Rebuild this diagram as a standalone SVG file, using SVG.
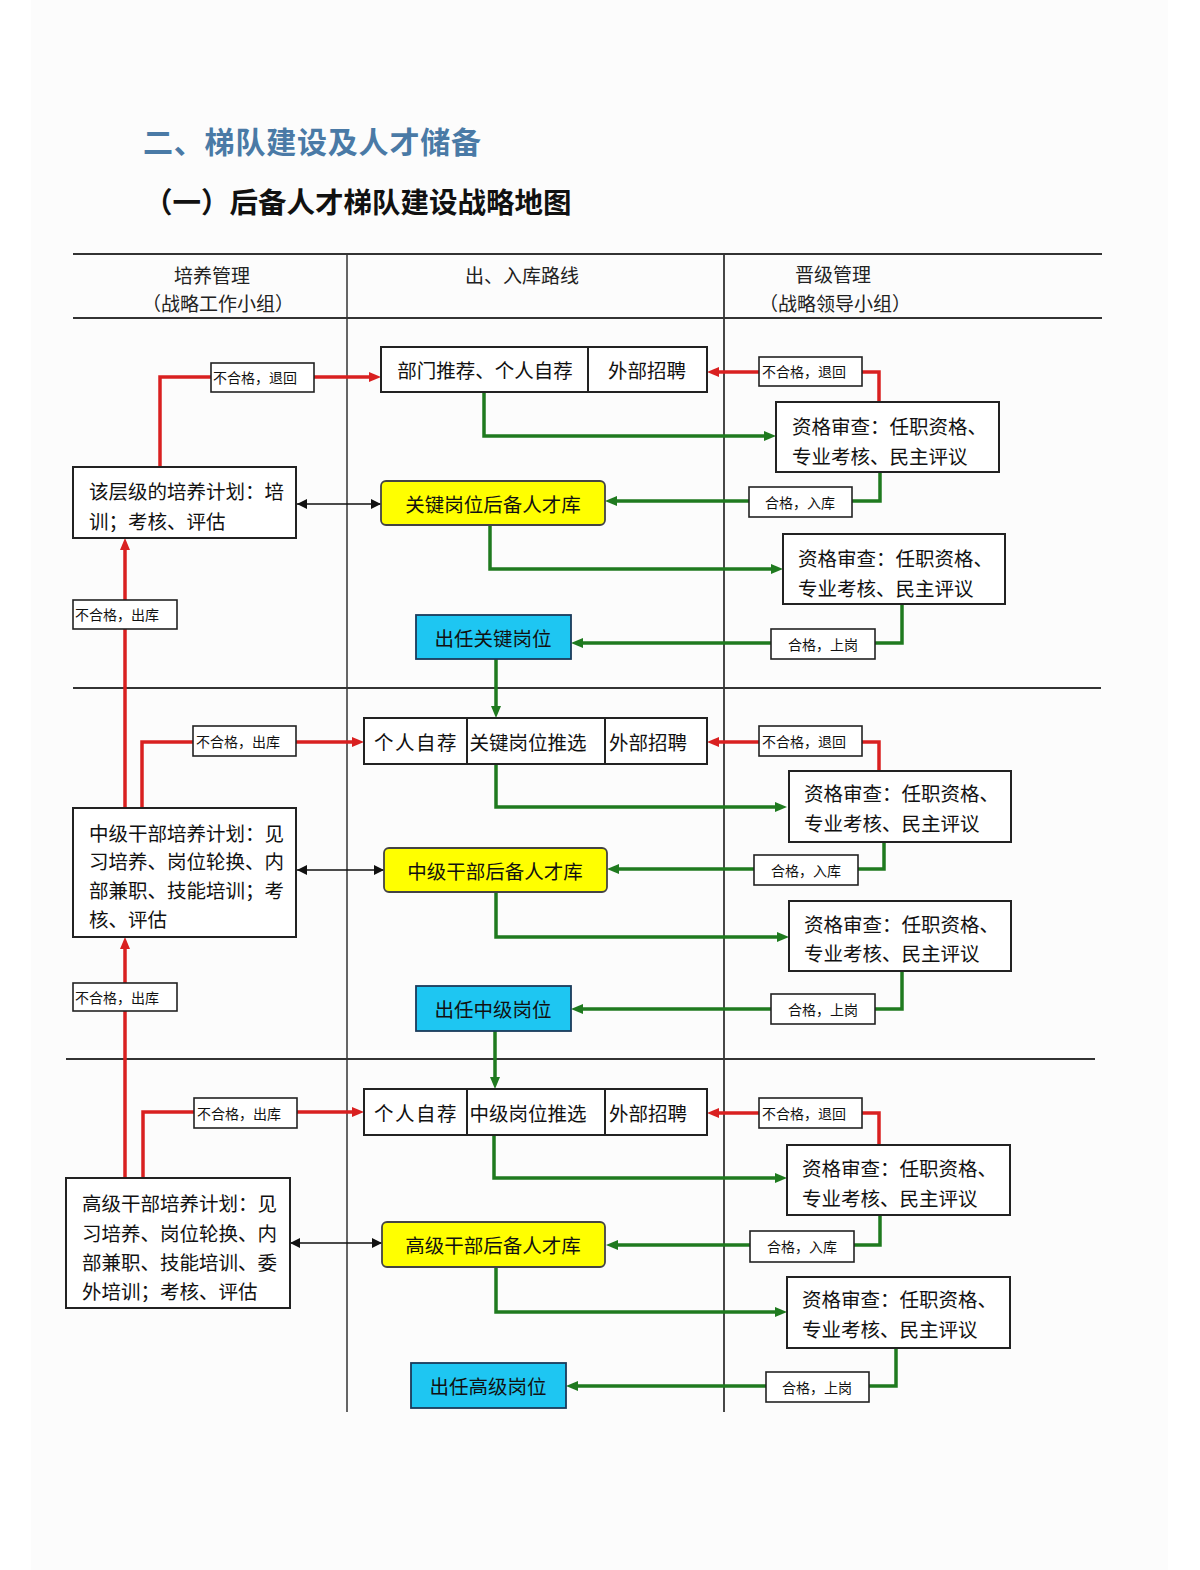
<svg xmlns="http://www.w3.org/2000/svg" width="1200" height="1570" viewBox="0 0 1200 1570">
<defs>
<style>
.box{fill:#fff;stroke:#222;stroke-width:2}
.yel{fill:#ffff00;stroke:#444;stroke-width:1.8}
.cyan{fill:#1ec6f2;stroke:#1a3a5a;stroke-width:1.8}
.lbl{fill:#fff;stroke:#222;stroke-width:1.6}
.t{font-family:"Noto Sans CJK SC","Noto Sans",sans-serif;font-size:19.5px;fill:#111;dominant-baseline:central}
.tc{text-anchor:middle}
.ts{font-size:14px}
.hd{font-size:19px;fill:#222}
.g{fill:none;stroke:#1f7a1f;stroke-width:3.5}
.r{fill:none;stroke:#d92020;stroke-width:3.5}
.k{fill:none;stroke:#111;stroke-width:1.5}
.grid{stroke:#333;stroke-width:1.8;fill:none}
</style>
<marker id="ag" viewBox="0 0 12 10" refX="4" refY="5" markerWidth="12" markerHeight="10" markerUnits="userSpaceOnUse" orient="auto"><path d="M0,0 L12,5 L0,10 z" fill="#1f7a1f"/></marker>
<marker id="ar" viewBox="0 0 12 10" refX="4" refY="5" markerWidth="12" markerHeight="10" markerUnits="userSpaceOnUse" orient="auto"><path d="M0,0 L12,5 L0,10 z" fill="#d92020"/></marker>
<marker id="ak" viewBox="0 0 10 10" refX="10" refY="5" markerWidth="10" markerHeight="10" markerUnits="userSpaceOnUse" orient="auto-start-reverse"><path d="M0,0 L10,5 L0,10 z" fill="#111"/></marker>
</defs>
<rect x="0" y="0" width="1200" height="1570" fill="#ffffff"/>
<rect x="31" y="0" width="1137" height="1570" fill="#fcfcfc"/>

<g id="titles">
<text class="t" x="143" y="140" style="font-size:30px;font-weight:bold;fill:#4a7aa6;letter-spacing:0.8px">二、梯队建设及人才储备</text>
<text class="t" x="144" y="200" style="font-size:28.5px;font-weight:bold;fill:#111">（一）后备人才梯队建设战略地图</text>
</g>

<g id="table">
<line class="grid" x1="73" y1="254" x2="1102" y2="254"/>
<line class="grid" x1="73" y1="318" x2="1102" y2="318"/>
<line class="grid" x1="73" y1="688" x2="1101" y2="688"/>
<line class="grid" x1="66" y1="1059" x2="1095" y2="1059"/>
<line class="grid" x1="347" y1="254" x2="347" y2="1412" style="stroke-width:1.5"/>
<line class="grid" x1="724" y1="254" x2="724" y2="1412"/>
<text class="t tc hd" x="212" y="274">培养管理</text>
<text class="t tc hd" x="218" y="302">（战略工作小组）</text>
<text class="t tc hd" x="522" y="274">出、入库路线</text>
<text class="t tc hd" x="833" y="273">晋级管理</text>
<text class="t tc hd" x="835" y="302">（战略领导小组）</text>
</g>

<g id="connectors">
<!-- section 1 -->
<path class="r" d="M160,467 V377 H373" marker-end="url(#ar)"/>
<path class="r" d="M879,402 V372 H715" marker-end="url(#ar)"/>
<path class="g" d="M484,392 V436 H768" marker-end="url(#ag)"/>
<path class="g" d="M880,472 V501 H613" marker-end="url(#ag)"/>
<path class="k" d="M297,504 H381" marker-start="url(#ak)" marker-end="url(#ak)"/>
<path class="g" d="M490,525 V569 H775" marker-end="url(#ag)"/>
<path class="g" d="M902,604 V643 H579" marker-end="url(#ag)"/>
<path class="g" d="M496,659 V710" marker-end="url(#ag)"/>
<path class="r" d="M125,808 V546" marker-end="url(#ar)"/>
<!-- section 2 -->
<path class="r" d="M142,808 V742 H356" marker-end="url(#ar)"/>
<path class="r" d="M879,771 V742 H715" marker-end="url(#ar)"/>
<path class="g" d="M496,764 V807 H779" marker-end="url(#ag)"/>
<path class="g" d="M884,842 V869 H615" marker-end="url(#ag)"/>
<path class="k" d="M297,870 H384" marker-start="url(#ak)" marker-end="url(#ak)"/>
<path class="g" d="M496,892 V937 H781" marker-end="url(#ag)"/>
<path class="g" d="M902,971 V1009 H579" marker-end="url(#ag)"/>
<path class="g" d="M495,1031 V1081" marker-end="url(#ag)"/>
<path class="r" d="M125,1178 V945" marker-end="url(#ar)"/>
<!-- section 3 -->
<path class="r" d="M143,1178 V1112 H356" marker-end="url(#ar)"/>
<path class="r" d="M879,1145 V1113 H715" marker-end="url(#ar)"/>
<path class="g" d="M494,1135 V1178 H779" marker-end="url(#ag)"/>
<path class="g" d="M880,1215 V1245 H614" marker-end="url(#ag)"/>
<path class="k" d="M290,1243 H382" marker-start="url(#ak)" marker-end="url(#ak)"/>
<path class="g" d="M496,1267 V1312 H779" marker-end="url(#ag)"/>
<path class="g" d="M896,1348 V1386 H574" marker-end="url(#ag)"/>
</g>

<g id="edge-labels">
<g id="lbl-s1-return-left"><rect class="lbl" x="211" y="363" width="103" height="29"/><text class="t ts" x="213" y="377">不合格，退回</text></g>
<g id="lbl-s1-return-right"><rect class="lbl" x="759" y="357" width="103" height="29"/><text class="t ts" x="762" y="371">不合格，退回</text></g>
<g id="lbl-s1-in"><rect class="lbl" x="749" y="487" width="103" height="30"/><text class="t tc ts" x="800" y="502">合格，入库</text></g>
<g id="lbl-s1-up"><rect class="lbl" x="771" y="629" width="104" height="30"/><text class="t tc ts" x="823" y="644">合格，上岗</text></g>
<g id="lbl-s1-out"><rect class="lbl" x="73" y="600" width="104" height="29"/><text class="t ts" x="75" y="614">不合格，出库</text></g>
<g id="lbl-s2-out-left"><rect class="lbl" x="193" y="726" width="103" height="30"/><text class="t ts" x="196" y="741">不合格，出库</text></g>
<g id="lbl-s2-return-right"><rect class="lbl" x="759" y="726" width="103" height="30"/><text class="t ts" x="762" y="741">不合格，退回</text></g>
<g id="lbl-s2-in"><rect class="lbl" x="754" y="855" width="104" height="30"/><text class="t tc ts" x="806" y="870">合格，入库</text></g>
<g id="lbl-s2-up"><rect class="lbl" x="771" y="994" width="104" height="30"/><text class="t tc ts" x="823" y="1009">合格，上岗</text></g>
<g id="lbl-s2-out"><rect class="lbl" x="73" y="983" width="104" height="28"/><text class="t ts" x="75" y="997">不合格，出库</text></g>
<g id="lbl-s3-out-left"><rect class="lbl" x="194" y="1098" width="103" height="30"/><text class="t ts" x="197" y="1113">不合格，出库</text></g>
<g id="lbl-s3-return-right"><rect class="lbl" x="759" y="1098" width="103" height="30"/><text class="t ts" x="762" y="1113">不合格，退回</text></g>
<g id="lbl-s3-in"><rect class="lbl" x="750" y="1231" width="104" height="31"/><text class="t tc ts" x="802" y="1246">合格，入库</text></g>
<g id="lbl-s3-up"><rect class="lbl" x="766" y="1372" width="103" height="30"/><text class="t tc ts" x="817" y="1387">合格，上岗</text></g>
</g>

<!-- Section 1 nodes -->
<g id="n-s1-source">
<rect class="box" x="381" y="347" width="326" height="45"/>
<line x1="588" y1="347" x2="588" y2="392" stroke="#222" stroke-width="2"/>
<text class="t tc" x="485" y="369">部门推荐、个人自荐</text>
<text class="t tc" x="647" y="369">外部招聘</text>
</g>
<g id="n-s1-plan">
<rect class="box" x="73" y="467" width="223" height="71"/>
<text class="t" x="89" y="490">该层级的培养计划：培</text>
<text class="t" x="89" y="520">训；考核、评估</text>
</g>
<g id="n-s1-pool">
<rect class="yel" x="381" y="481" width="224" height="44" rx="5"/>
<text class="t tc" x="493" y="503">关键岗位后备人才库</text>
</g>
<g id="n-s1-review1">
<rect class="box" x="776" y="402" width="223" height="70"/>
<text class="t" x="792" y="425">资格审查：任职资格、</text>
<text class="t" x="792" y="455">专业考核、民主评议</text>
</g>
<g id="n-s1-review2">
<rect class="box" x="783" y="534" width="222" height="70"/>
<text class="t" x="798" y="557">资格审查：任职资格、</text>
<text class="t" x="798" y="587">专业考核、民主评议</text>
</g>
<g id="n-s1-post">
<rect class="cyan" x="416" y="615" width="155" height="44"/>
<text class="t tc" x="493" y="637">出任关键岗位</text>
</g>

<!-- Section 2 nodes -->
<g id="n-s2-source">
<rect class="box" x="364" y="718" width="343" height="46"/>
<line x1="467" y1="718" x2="467" y2="764" stroke="#222" stroke-width="2"/>
<line x1="605" y1="718" x2="605" y2="764" stroke="#222" stroke-width="2"/>
<text class="t tc" x="416" y="741" style="letter-spacing:1.5px">个人自荐</text>
<text class="t tc" x="528" y="741">关键岗位推选</text>
<text class="t tc" x="648" y="741">外部招聘</text>
</g>
<g id="n-s2-plan">
<rect class="box" x="73" y="808" width="223" height="129"/>
<text class="t" x="89" y="832">中级干部培养计划：见</text>
<text class="t" x="89" y="860">习培养、岗位轮换、内</text>
<text class="t" x="89" y="889">部兼职、技能培训；考</text>
<text class="t" x="89" y="918">核、评估</text>
</g>
<g id="n-s2-pool">
<rect class="yel" x="384" y="848" width="223" height="44" rx="5"/>
<text class="t tc" x="495" y="870">中级干部后备人才库</text>
</g>
<g id="n-s2-review1">
<rect class="box" x="789" y="771" width="222" height="71"/>
<text class="t" x="804" y="792">资格审查：任职资格、</text>
<text class="t" x="804" y="822">专业考核、民主评议</text>
</g>
<g id="n-s2-review2">
<rect class="box" x="789" y="901" width="222" height="70"/>
<text class="t" x="804" y="923">资格审查：任职资格、</text>
<text class="t" x="804" y="952">专业考核、民主评议</text>
</g>
<g id="n-s2-post">
<rect class="cyan" x="416" y="986" width="155" height="45"/>
<text class="t tc" x="493" y="1008">出任中级岗位</text>
</g>

<!-- Section 3 nodes -->
<g id="n-s3-source">
<rect class="box" x="364" y="1089" width="343" height="46"/>
<line x1="467" y1="1089" x2="467" y2="1135" stroke="#222" stroke-width="2"/>
<line x1="605" y1="1089" x2="605" y2="1135" stroke="#222" stroke-width="2"/>
<text class="t tc" x="416" y="1112" style="letter-spacing:1.5px">个人自荐</text>
<text class="t tc" x="528" y="1112">中级岗位推选</text>
<text class="t tc" x="648" y="1112">外部招聘</text>
</g>
<g id="n-s3-plan">
<rect class="box" x="66" y="1178" width="224" height="130"/>
<text class="t" x="82" y="1202">高级干部培养计划：见</text>
<text class="t" x="82" y="1232">习培养、岗位轮换、内</text>
<text class="t" x="82" y="1261">部兼职、技能培训、委</text>
<text class="t" x="82" y="1290">外培训；考核、评估</text>
</g>
<g id="n-s3-pool">
<rect class="yel" x="382" y="1222" width="223" height="45" rx="5"/>
<text class="t tc" x="493" y="1244">高级干部后备人才库</text>
</g>
<g id="n-s3-review1">
<rect class="box" x="787" y="1145" width="223" height="70"/>
<text class="t" x="802" y="1167">资格审查：任职资格、</text>
<text class="t" x="802" y="1197">专业考核、民主评议</text>
</g>
<g id="n-s3-review2">
<rect class="box" x="787" y="1277" width="223" height="71"/>
<text class="t" x="802" y="1298">资格审查：任职资格、</text>
<text class="t" x="802" y="1328">专业考核、民主评议</text>
</g>
<g id="n-s3-post">
<rect class="cyan" x="411" y="1363" width="155" height="45"/>
<text class="t tc" x="488" y="1385">出任高级岗位</text>
</g>
</svg>
